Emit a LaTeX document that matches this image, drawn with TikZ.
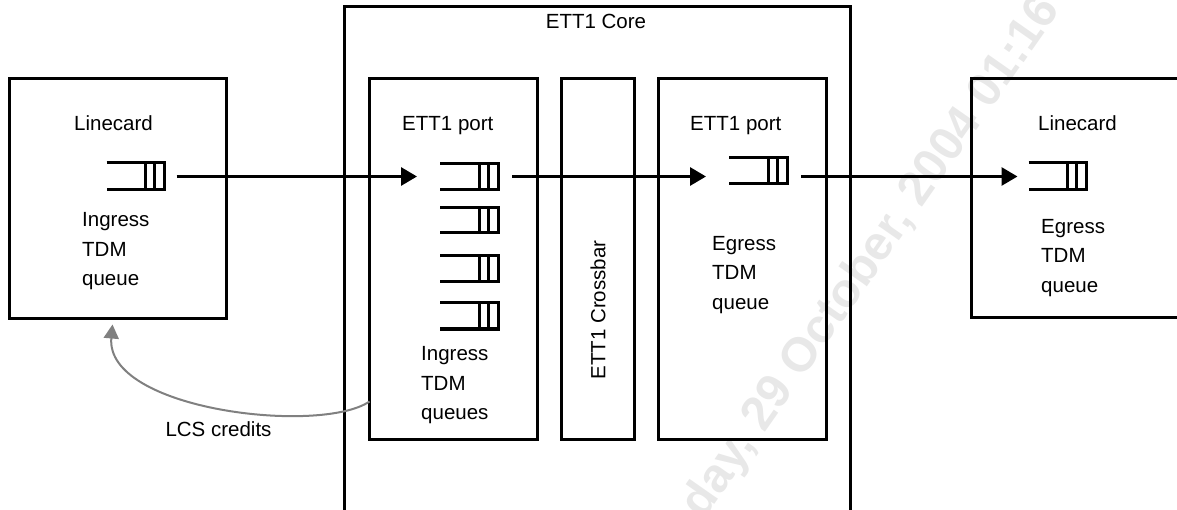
\documentclass[tikz,border=0pt]{standalone}
\usepackage{fontspec}
\setmainfont{Liberation Sans}
\usetikzlibrary{arrows.meta,calc}
\tikzset{
  box/.style={draw=black, line width=3pt, inner sep=0pt},
  frame/.style={draw=black, line width=3pt},
  queue/.style={inner sep=0pt, outer sep=0pt, minimum width=58pt, minimum height=27pt},
  qline/.style={draw=black, line width=3pt},
  txt/.style={inner sep=0pt, anchor=base west, font=\fontsize{20.5}{24}\selectfont},
  ctxt/.style={inner sep=0pt, font=\fontsize{20.5}{24}\selectfont},
  flow/.style={draw=black, line width=3pt, -{Triangle[length=16pt,width=18pt]}},
  credit/.style={draw=black!50, line width=2pt, -{Triangle[length=14pt,width=15pt]}},
  wmark/.style={text=black!9, rotate=55, inner sep=0pt, font=\bfseries\fontsize{48}{52}\selectfont}
}
\newcommand{\qdraw}[1]{%
  \draw[qline] (#1.north west) -- (#1.north east) -- (#1.south east) -- (#1.south west);
  \draw[qline] ($(#1.north east)+(-19,0)$) -- ($(#1.south east)+(-19,0)$);
  \draw[qline] ($(#1.north east)+(-10,0)$) -- ($(#1.south east)+(-10,0)$);
}
\begin{document}
\begin{tikzpicture}[x=1pt,y=-1pt]
\useasboundingbox (0,0) rectangle (1177,510);
% watermark
\begin{scope}
  \clip (0,0) rectangle (1177,510);
  \node[wmark] (wm) at (872,258) {day, 29 October, 2004 01:16};
\end{scope}

% ETT1 core (open at the bottom)
\draw[frame] (344,510) -- (344,7) -- (850,7) -- (850,510);
\node[ctxt, anchor=base] (coretxt) at (596,29) {ETT1 Core};

% boxes
\node[box, minimum width=217pt, minimum height=240pt] (lc1) at (117.5,199) {};
\node[box, minimum width=168pt, minimum height=360pt] (port1) at (453,259) {};
\node[box, minimum width=73pt, minimum height=360pt] (xbar) at (597.5,259) {};
\node[box, minimum width=168pt, minimum height=360pt] (port2) at (742,259) {};
\draw[frame] (1177,79) -- (971,79) -- (971,318) -- (1177,318);

% texts
\node[txt] (t1) at (74,131) {Linecard};
\node[txt] (t2) at (82,227) {Ingress};
\node[txt] (t3) at (82,257) {TDM};
\node[txt] (t4) at (82,286) {queue};

\node[txt] (t5) at (402,131) {ETT1 port};
\node[txt] (t6) at (421,360.5) {Ingress};
\node[txt] (t7) at (421,390) {TDM};
\node[txt] (t8) at (421,419.5) {queues};

\node[ctxt, rotate=90] (t9) at (598,310) {ETT1 Crossbar};

\node[txt] (t10) at (690,131) {ETT1 port};
\node[txt] (t11) at (712,250.5) {Egress};
\node[txt] (t12) at (712,280) {TDM};
\node[txt] (t13) at (712,309.5) {queue};

\node[txt] (t14) at (1038,131) {Linecard};
\node[txt] (t15) at (1041,233.5) {Egress};
\node[txt] (t16) at (1041,263) {TDM};
\node[txt] (t17) at (1041,292.5) {queue};

\node[ctxt] (lcs) at (218.5,429) {LCS credits};

% queues
\node[queue] (lcq) at (135.5,176.5) {};
\node[queue, minimum height=26pt] (pq1) at (469,176.5) {};
\node[queue, minimum height=25pt] (pq2) at (469,220.5) {};
\node[queue, minimum height=26pt] (pq3) at (469,269) {};
\node[queue, minimum height=26pt] (pq4) at (469,316) {};
\node[queue, minimum height=26pt] (p2q) at (758,171) {};
\node[queue] (lc2q) at (1057.5,176.5) {};
\qdraw{lcq}
\qdraw{pq1}
\qdraw{pq2}
\qdraw{pq3}
\qdraw{pq4}
\qdraw{p2q}
\qdraw{lc2q}

% connectors
\draw[flow] ($(lcq.east)+(12,0)$) -- ($(pq1.west)+(-23,0)$);
\draw[flow] ($(pq1.east)+(14,0)$) -- ($(p2q.west |- pq1.west)+(-23,0)$);
\draw[flow] ($(p2q.east |- pq1.east)+(14,0)$) -- ($(lc2q.west)+(-11,0)$);
\draw[credit] ($(port1.south west)+(2,-39)$) .. controls (320,435) and (105,410) .. ($(lc1.south)+(-5,4)$);
\end{tikzpicture}
\end{document}
